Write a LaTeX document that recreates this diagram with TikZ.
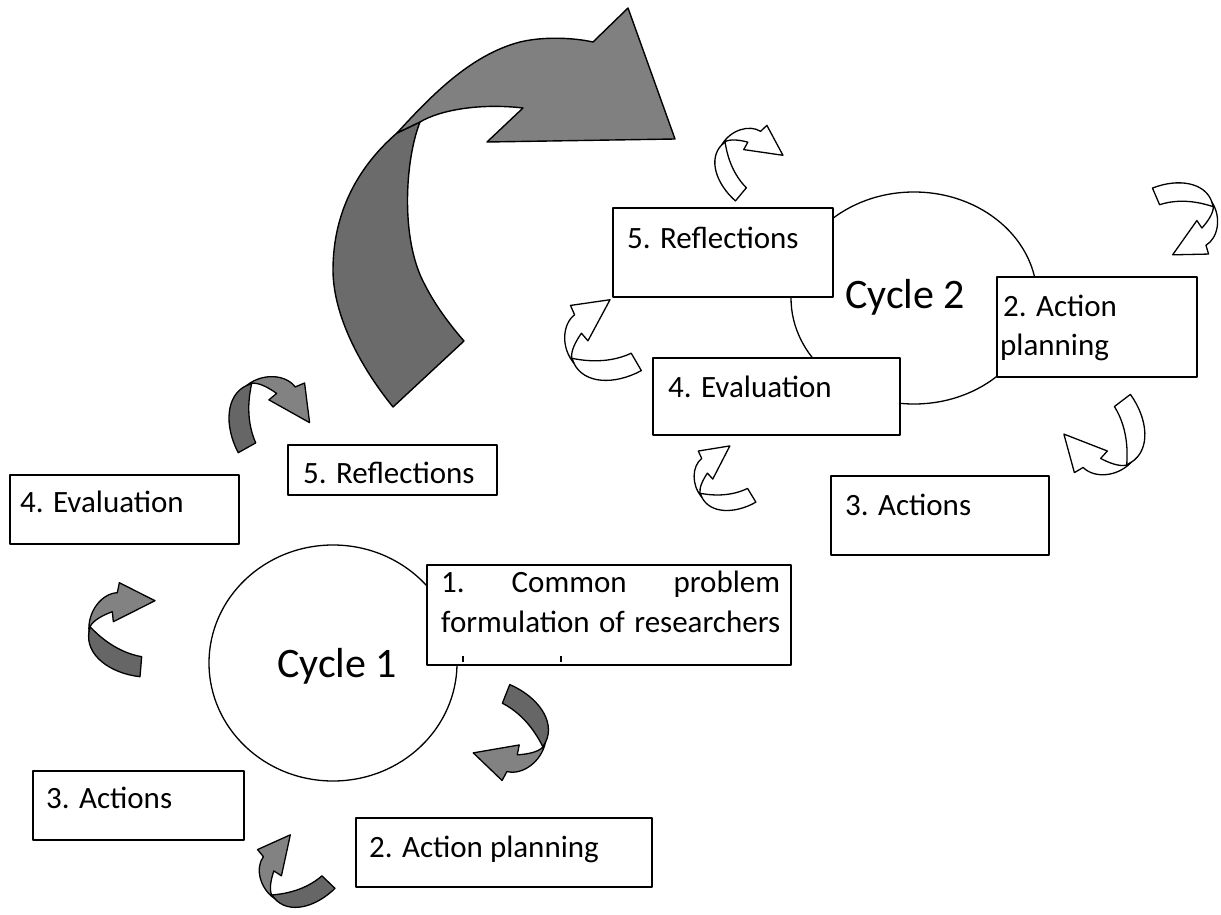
\documentclass[tikz,border=0pt]{standalone}
\usepackage{fontspec}
\setmainfont{Carlito}
\definecolor{adark}{HTML}{666666}
\definecolor{alight}{HTML}{828282}
\definecolor{bdark}{HTML}{6B6B6B}
\definecolor{blight}{HTML}{808080}
\newcommand\curvarrow[5]{%
  \begin{scope}[shift={(#1,#2)}, rotate=#3, scale=#4/3]
    \path[#5dark] (0,0) .. controls (15,15) and (70,75) .. (155,90) -- (150,150)
      .. controls (60,140) and (-15,85) .. (-3,15) -- cycle;
    \path[#5light] (-3,15) .. controls (-8,-45) and (35,-100) .. (82,-102)
      -- (88,-132) -- (195,-78) -- (70,-15) -- (67,-45)
      .. controls (40,-35) and (10,-20) .. (0,0) -- cycle;
  \end{scope}}
\begin{document}
\begin{tikzpicture}[x=1pt,y=-1pt,line join=round,
  box/.style={draw, line width=1.4pt, fill=white},
  lab/.style={anchor=base west, inner sep=0pt, font=\fontsize{31}{38}\selectfont},
  cyc/.style={anchor=base west, inner sep=0pt, font=\fontsize{42}{50}\selectfont},
  ring/.style={draw, line width=1.3pt},
  gdark/.style={fill=adark, draw=black, line width=1.3pt},
  glight/.style={fill=alight, draw=black, line width=1.3pt},
  wdark/.style={fill=white, draw=black, line width=1.3pt},
  wlight/.style={fill=white, draw=black, line width=1.3pt},
  bigdark/.style={fill=bdark, draw=black, line width=1.4pt},
  biglight/.style={fill=blight, draw=black, line width=1.4pt}]
\useasboundingbox (0,0) rectangle (1221,915);

% circles
\draw[ring] (333,663) ellipse [x radius=124, y radius=118];
\draw[ring] (914,298) ellipse [x radius=123, y radius=106];

% cycle 2 boxes
\draw[box] (613,208) rectangle (833,297);
\draw[box] (997,277) rectangle (1197,377);
\draw[box] (653,358) rectangle (900,435);
\draw[box] (831,476) rectangle (1049,555);
% cycle 1 boxes
\draw[box] (288,445) rectangle (497,495);
\draw[box] (10,475) rectangle (239,544);
\draw[box] (427,565) rectangle (791,665);
\draw[box] (33,771) rectangle (244,840);
\draw[box] (356,818) rectangle (652,887);

% labels cycle 2
\node[lab] (t2r) at (627,248) {5. Reflections};
\node[lab] (t2a) at (1003,316) {2. Action};
\node[lab] (t2p) at (1000,355) {planning};
\node[lab] (t2e) at (668,397) {4. Evaluation};
\node[lab] (t2c) at (845,515) {3. Actions};
\node[cyc] (cy2) at (845,308) {Cycle 2};
% labels cycle 1
\node[lab] (t1r) at (303,483) {5. Reflections};
\node[lab] (t1e) at (20,512) {4. Evaluation};
\node[lab] (t1a) at (441,592) {\hbox to 339pt{1.\hfil Common\hfil problem}};
\node[lab] (t1b) at (441,632) {\hbox to 339pt{formulation\hfil of\hfil researchers}};
\node[lab] (t1c) at (46,808) {3. Actions};
\node[lab] (t1p) at (369,857) {2. Action planning};
\node[cyc] (cy1) at (277,677) {Cycle 1};
\fill (461.5,656) rectangle (464,662);
\fill (559.5,656) rectangle (562,662);

% big arrow
\path[bigdark] (393,407) .. controls (355,360) and (333,310) .. (333,270)
  .. controls (333,210) and (360,165) .. (397,133) -- (420,122)
  .. controls (405,160) and (400,240) .. (425,285)
  .. controls (435,305) and (450,325) .. (464,341) -- cycle;
\path[biglight] (397,133) .. controls (430,97) and (470,55) .. (520,42)
  .. controls (545,36) and (575,38) .. (593,42) -- (628,8) -- (675,139)
  -- (487,142) -- (523,108) .. controls (480,103) and (440,110) .. (420,122) -- cycle;

% small curved arrows, cycle 1 (grey)
\curvarrow{90}{626.7}{0}{1}{g}
\curvarrow{251.7}{383.3}{-56}{1}{g}
\curvarrow{543}{747}{-197}{1}{g}
\curvarrow{271.7}{895}{51}{0.9}{g}
% small curved arrows, cycle 2 (white)
\curvarrow{725}{141.7}{-35}{0.85}{w}
\curvarrow{1213.3}{206.7}{-152}{0.9}{w}
\curvarrow{571.7}{358.3}{35}{1}{w}
\curvarrow{700}{493.3}{36}{0.8}{w}
\curvarrow{1126.7}{465}{-228}{1}{w}
\end{tikzpicture}
\end{document}
